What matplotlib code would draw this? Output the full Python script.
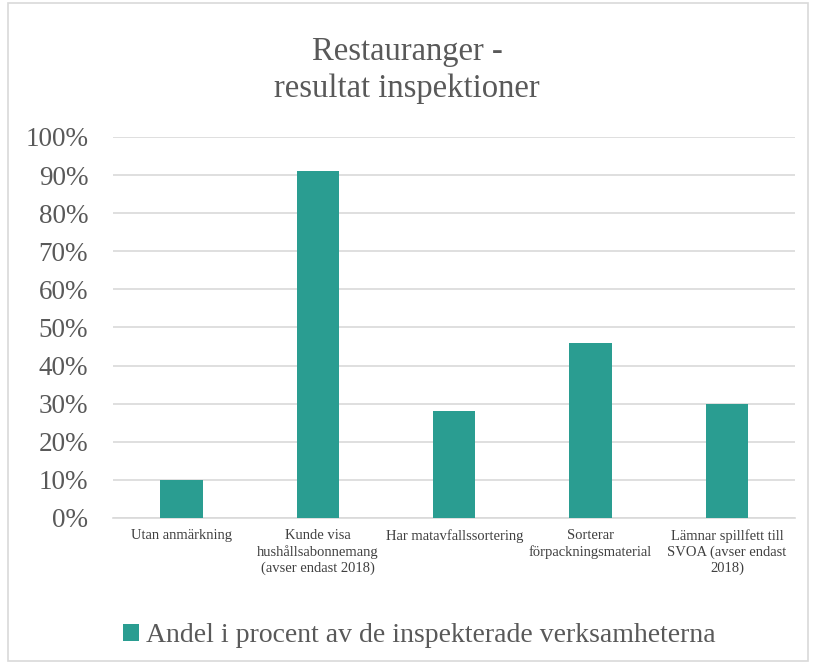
import matplotlib.pyplot as plt
from matplotlib.patches import Rectangle
import numpy as np

plt.rcParams['font.family'] = ['Liberation Serif', 'DejaVu Serif']

categories = ['Utan anmärkning',
              'Kunde visa\nhushållsabonnemang\n(avser endast 2018)',
              'Har matavfallssortering',
              'Sorterar\nförpackningsmaterial',
              'Lämnar spillfett till\nSVOA (avser endast\n2018)']
values = [10, 91, 28, 46, 30]
series_name = 'Andel i procent av de inspekterade verksamheterna'
color = '#2a9d91'

fig = plt.figure(figsize=(8.14, 6.68), dpi=100)
fig.patches.append(Rectangle((0.01, 0.01), 0.983, 0.985, transform=fig.transFigure,
                             fill=False, edgecolor='#d9d9d9', lw=1.2))
ax = fig.add_axes([0.139, 0.2246, 0.838, 0.5704])

x = np.arange(len(categories))
ax.bar(x, values, width=0.31, color=color, label=series_name, zorder=3)
ax.set_xlim(-0.5, len(categories) - 0.5)
ax.set_ylim(0, 100)
ax.set_yticks(np.arange(0, 101, 10))
ax.set_yticklabels([f'{v}%' for v in range(0, 101, 10)])
ax.yaxis.grid(True, color='#d9d9d9', lw=1.2, zorder=0)
ax.set_xticks(x)
ax.set_xticklabels(categories, fontsize=10.5, color='#404040', linespacing=1.25)
ax.tick_params(axis='y', length=0, labelsize=19.5, labelcolor='#595959', pad=18)
ax.tick_params(axis='x', length=0, pad=8)
for s in ['top', 'right', 'left']:
    ax.spines[s].set_visible(False)
ax.spines['bottom'].set_color('#d9d9d9')
ax.spines['bottom'].set_linewidth(1.2)

fig.text(0.5, 0.895, 'Restauranger -\nresultat inspektioner', ha='center', va='center',
         fontsize=23.5, color='#595959', linespacing=1.25)

fig.legend(loc='center', bbox_to_anchor=(0.515, 0.048), frameon=False, fontsize=20,
           handlelength=0.6, handleheight=0.6, handletextpad=0.25, labelcolor='#595959')

fig.savefig('out.png', dpi=100)
